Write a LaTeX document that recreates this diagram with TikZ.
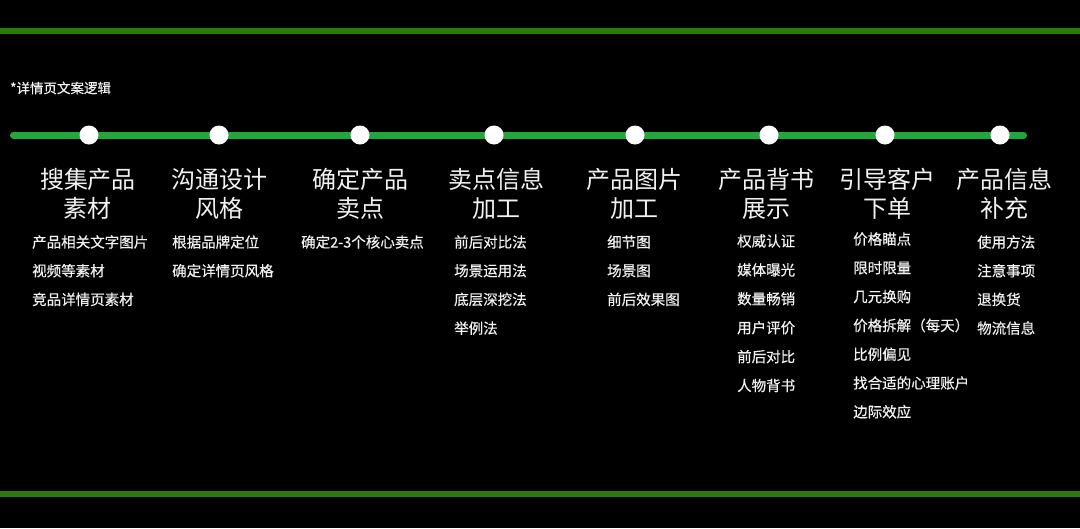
\documentclass[tikz,border=0pt]{standalone}
\usepackage{fontspec}
\newfontfamily\cjk{Noto Sans CJK SC}
\newfontfamily\cjkm[FakeBold=0.4]{Noto Sans CJK SC}
\definecolor{bandgreen}{HTML}{2B7A0B}
\definecolor{linegreen}{HTML}{22A83A}
\definecolor{txt}{HTML}{F2F2F2}
\tikzset{
  titlestyle/.style={text=txt, font=\cjk\fontsize{24}{29}\selectfont, align=center, inner sep=0pt},
  itemstyle/.style={text=txt, font=\cjkm\fontsize{14.5}{17}\selectfont, anchor=west, inner sep=0pt},
  headstyle/.style={text=txt, font=\cjkm\fontsize{13.5}{16}\selectfont, anchor=west, inner sep=0pt},
  dotstyle/.style={circle, fill=white, minimum size=19pt, inner sep=0pt},
  bandstyle/.style={fill=bandgreen},
  timeline/.style={draw=linegreen, line width=7pt, line cap=round},
}
\begin{document}
\begin{tikzpicture}[x=1pt,y=-1pt]
\fill[black] (0,0) rectangle (1080,528);
\useasboundingbox (0,0) rectangle (1080,528);
% bands
\fill[bandstyle] (0,27.5) rectangle (1080,33.5);
\fill[bandstyle] (0,491) rectangle (1080,497);
% header
\node[headstyle] (head) at (10,88) {*详情页文案逻辑};
% timeline
\coordinate (L) at (13.5,135);
\coordinate (R) at (1023.5,135);
\draw[timeline] (L) -- (R);
\foreach \i/\x in {1/89,2/219,3/360,4/494,5/635,6/769,7/885,8/1000}
  \node[dotstyle] (d\i) at (\x,135) {};
% titles
\node[titlestyle] (t1) at (88,193.5) {搜集产品\\素材};
\node[titlestyle] (t2) at (219,193.5) {沟通设计\\风格};
\node[titlestyle] (t3) at (360,193.5) {确定产品\\卖点};
\node[titlestyle] (t4) at (496,193.5) {卖点信息\\加工};
\node[titlestyle] (t5) at (634,193.5) {产品图片\\加工};
\node[titlestyle] (t6) at (766,193.5) {产品背书\\展示};
\node[titlestyle] (t7) at (887,193.5) {引导客户\\下单};
\node[titlestyle] (t8) at (1004,193.5) {产品信息\\补充};
% items
\foreach \t [count=\k from 0] in {产品相关文字图片,视频等素材,竞品详情页素材}
  \node[itemstyle] (ia\k) at (32,{242+28.7*\k}) {\t};
\foreach \t [count=\k from 0] in {根据品牌定位,确定详情页风格}
  \node[itemstyle] (ib\k) at (172,{242+28.7*\k}) {\t};
\foreach \t [count=\k from 0] in {确定2-3个核心卖点}
  \node[itemstyle] (ic\k) at (301,{242+28.7*\k}) {\t};
\foreach \t [count=\k from 0] in {前后对比法,场景运用法,底层深挖法,举例法}
  \node[itemstyle] (id\k) at (454,{242+28.7*\k}) {\t};
\foreach \t [count=\k from 0] in {细节图,场景图,前后效果图}
  \node[itemstyle] (ie\k) at (607,{242+28.7*\k}) {\t};
\foreach \t [count=\k from 0] in {权威认证,媒体曝光,数量畅销,用户评价,前后对比,人物背书}
  \node[itemstyle] (if\k) at (737,{241+28.9*\k}) {\t};
\foreach \t [count=\k from 0] in {价格瞄点,限时限量,几元换购,价格拆解（每天）,比例偏见,找合适的心理账户,边际效应}
  \node[itemstyle] (ig\k) at (853,{239+28.8*\k}) {\t};
\foreach \t [count=\k from 0] in {使用方法,注意事项,退换货,物流信息}
  \node[itemstyle] (ih\k) at (977,{242+28.7*\k}) {\t};
\end{tikzpicture}
\end{document}
